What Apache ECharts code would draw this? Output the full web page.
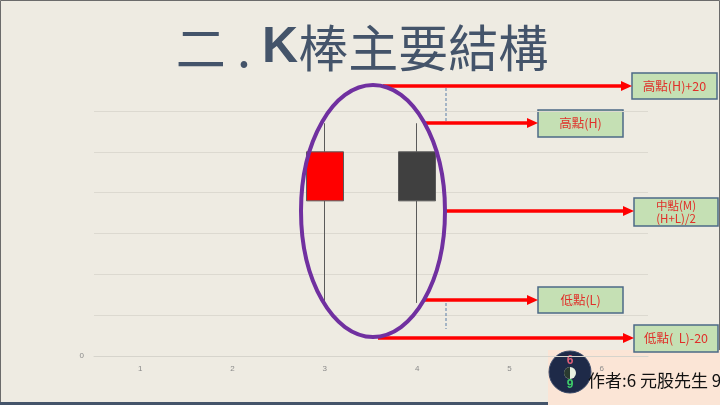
<!DOCTYPE html>
<html>
<head>
<meta charset="utf-8">
<script src="https://cdn.jsdelivr.net/npm/echarts@6/dist/echarts.min.js"></script>
<style>
  html,body{margin:0;padding:0;background:#eeebe2;}
  #main{width:720px;height:405px;}
</style>
</head>
<body>
<div id="main"></div>
<script>
// 資料
const categories = ['1', '2', '3', '4', '5', '6'];
const openVals  = ['-', '-', 38, 50, '-', '-'];
const closeVals = ['-', '-', 50, 38, '-', '-'];
const lowVals   = ['-', '-', 13, 13, '-', '-'];
const highVals  = ['-', '-', 57, 57, '-', '-'];
const yTicks = [0, 10, 20, 30, 40, 50, 60];

const kData = categories.map((c, i) =>
  openVals[i] === '-' ? '-' : [openVals[i], closeVals[i], lowVals[i], highVals[i]]);

var myChart = echarts.init(document.getElementById('main'));

const labelFont = 'Noto Sans CJK TC';
function arrow(x1, x2, y) {
  return [
    { type: 'line', z: 20, shape: { x1: x1, y1: y, x2: x2 - 9, y2: y },
      style: { stroke: '#ff0000', lineWidth: 3.5 } },
    { type: 'polygon', z: 20, shape: { points: [[x2 - 11, y - 5], [x2, y], [x2 - 11, y + 5]] },
      style: { fill: '#ff0000' } }
  ];
}
function box(x, y, w, h, text, size) {
  return {
    type: 'group', z: 20, x: x, y: y,
    children: [
      { type: 'rect', shape: { x: 0, y: 0, width: w, height: h },
        style: { fill: '#c5e0b4', stroke: '#4c6a86', lineWidth: 1.5 } },
      { type: 'text', x: w / 2, y: h / 2,
        style: { text: text, fill: '#e0302a', font: size + 'px "' + labelFont + '"',
                 textAlign: 'center', textVerticalAlign: 'middle', lineHeight: size + 2 } }
    ]
  };
}

var option = {
  backgroundColor: '#eeebe2',
  animation: false,
  grid: { left: 94, right: 72, top: 111, bottom: 49 },
  xAxis: {
    type: 'category',
    data: categories,
    axisLine: { lineStyle: { color: '#d6d4cc' } },
    axisTick: { show: false },
    axisLabel: { color: '#8a8a8a', fontSize: 8, margin: 9, fontFamily: 'Liberation Sans' }
  },
  yAxis: {
    type: 'value',
    min: yTicks[0],
    max: yTicks[yTicks.length - 1],
    interval: 10,
    axisLine: { show: false },
    axisTick: { show: false },
    axisLabel: { color: '#8a8a8a', fontSize: 8, margin: 10, fontFamily: 'Liberation Sans',
      formatter: v => (v === 0 ? '0' : '') },
    splitLine: { lineStyle: { color: '#dcd9d0', width: 1 } }
  },
  series: [{
    type: 'candlestick',
    data: kData,
    barWidth: 37,
    itemStyle: {
      color: '#ff0000',
      color0: '#404040',
      borderColor: '#5a5a5a',
      borderColor0: '#5a5a5a',
      borderWidth: 1
    }
  }],
  graphic: [
    // 頁框
    { type: 'rect', z: -5, shape: { x: 0.5, y: 0.5, width: 719, height: 404 },
      style: { fill: 'none', stroke: '#6b6b6b', lineWidth: 1 } },
    { type: 'rect', z: -5, shape: { x: 548, y: 350, width: 172, height: 55 },
      style: { fill: '#fbe5d6' } },
    { type: 'rect', z: 30, shape: { x: 0, y: 402, width: 548, height: 3 },
      style: { fill: '#44546a' } },
    // 標題
    { type: 'text', z: 30, x: 362, y: 48,
      style: {
        text: '{n|二 . }{k|K}{n|棒主要結構}',
        textAlign: 'center', textVerticalAlign: 'middle',
        rich: {
          n: { fontSize: 50, fontFamily: labelFont, fill: '#44546a', fontWeight: 'normal' },
          k: { fontSize: 50, fontFamily: 'Liberation Sans', fill: '#44546a', fontWeight: 'bold' }
        }
      } },
    // 橢圓
    { type: 'ellipse', z: 25, shape: { cx: 373, cy: 211, rx: 72, ry: 126 },
      style: { fill: 'none', stroke: '#7030a0', lineWidth: 4 } },
    // 虛線
    { type: 'line', z: 20, shape: { x1: 446, y1: 88, x2: 446, y2: 121 },
      style: { stroke: '#5b7ea8', lineWidth: 1, lineDash: [3, 2] } },
    { type: 'line', z: 20, shape: { x1: 446, y1: 303, x2: 446, y2: 329 },
      style: { stroke: '#5b7ea8', lineWidth: 1, lineDash: [3, 2] } },
    ...arrow(383, 632, 86),
    ...arrow(425, 538, 123),
    ...arrow(446, 634, 211),
    ...arrow(424, 538, 300),
    ...arrow(378, 634, 338),
    box(632, 73, 85, 26, '高點(H)+20', 12.5),
    box(538, 110, 85, 27, '高點(H)', 12.5),
    box(634, 198, 84, 28, '中點(M)\n(H+L)/2', 11.5),
    box(538, 287, 85, 26, '低點(L)', 12.5),
    box(634, 325, 84, 27, '低點(  L)-20', 12.5),
    // logo
    { type: 'group', z: 30, x: 570, y: 372, children: [
      { type: 'circle', shape: { cx: 0, cy: 0, r: 21 },
        style: { fill: '#1e2a48', stroke: '#3a4a6a', lineWidth: 1 } },
      { type: 'text', x: 0, y: -11, style: { text: '6', fill: '#e0607a', font: 'bold 12px "Liberation Sans"', textAlign: 'center', textVerticalAlign: 'middle' } },
      { type: 'circle', shape: { cx: 0, cy: 1, r: 6 }, style: { fill: '#e8f0e0' } },
      { type: 'sector', shape: { cx: 0, cy: 1, r: 6, startAngle: Math.PI / 2, endAngle: Math.PI * 1.5 }, style: { fill: '#2a3a30' } },
      { type: 'text', x: 0, y: 13, style: { text: '9', fill: '#3fcf6a', font: 'bold 12px "Liberation Sans"', textAlign: 'center', textVerticalAlign: 'middle' } }
    ] },
    { type: 'text', z: 30, x: 588, y: 381,
      style: { text: '作者:6 元股先生 9', fill: '#111111',
               font: '17px "Noto Sans CJK TC"', textVerticalAlign: 'middle' } }
  ]
};

myChart.setOption(option);
</script>
</body>
</html>
